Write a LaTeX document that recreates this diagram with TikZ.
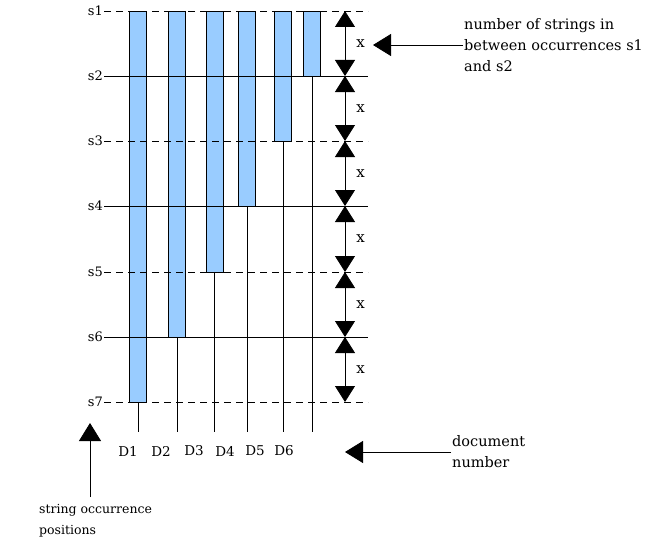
\documentclass[tikz,border=0pt]{standalone}
\usepackage{fontspec}
\setmainfont{DejaVu Serif}
\usetikzlibrary{arrows.meta}
\definecolor{barblue}{RGB}{153,204,255}

\begin{document}
\begin{tikzpicture}[x=1pt,y=-1pt]
        \useasboundingbox (0,0) rectangle (664,543);

        % document bars
        \begin{scope}[every node/.style={draw, thick, fill=barblue, rectangle, minimum width=17pt, inner sep=0, anchor=north}]
                \node [minimum height=391pt] (b1) at (138,11) {};
                \node [minimum height=326pt] (b2) at (177,11) {};
                \node [minimum height=261pt] (b3) at (214.5,11) {};
                \node [minimum height=195pt] (b4) at (247,11) {};
                \node [minimum height=130pt] (b5) at (283,11) {};
                \node [minimum height=65pt] (b6) at (312,11) {};
        \end{scope}

        % position labels and lines
        \begin{scope}[every node/.style={font=\fontsize{13}{15}\selectfont, inner sep=1, anchor=east}]
                \node (s1) at (104,11) {s1};
                \node (s2) at (104,76) {s2};
                \node (s3) at (104,141) {s3};
                \node (s4) at (104,206) {s4};
                \node (s5) at (104,272) {s5};
                \node (s6) at (104,337) {s6};
                \node (s7) at (104,402) {s7};
        \end{scope}
        \coordinate (e1) at (368,11);
        \coordinate (e2) at (368,76);
        \coordinate (e3) at (368,141);
        \coordinate (e4) at (368,206);
        \coordinate (e5) at (368,272);
        \coordinate (e6) at (368,337);
        \coordinate (e7) at (368,402);
        \begin{scope}[every path/.style={thick}]
                \draw [dash pattern=on 7pt off 5pt] (s1.east) -- (e1);
                \draw (s2.east) -- (e2);
                \draw [dash pattern=on 7pt off 5pt] (s3.east) -- (e3);
                \draw (s4.east) -- (e4);
                \draw [dash pattern=on 7pt off 5pt] (s5.east) -- (e5);
                \draw (s6.east) -- (e6);
                \draw [dash pattern=on 7pt off 5pt] (s7.east) -- (e7);
        \end{scope}

        % document stems and numbers
        \coordinate (t1) at (138,432);
        \coordinate (t2) at (177,432);
        \coordinate (t3) at (214.5,432);
        \coordinate (t4) at (247,432);
        \coordinate (t5) at (283,432);
        \coordinate (t6) at (312,432);
        \begin{scope}[every path/.style={thick}]
                \draw (b1.south) -- (t1);
                \draw (b2.south) -- (t2);
                \draw (b3.south) -- (t3);
                \draw (b4.south) -- (t4);
                \draw (b5.south) -- (t5);
                \draw (b6.south) -- (t6);
        \end{scope}
        \begin{scope}[every node/.style={font=\fontsize{13.5}{15}\selectfont, inner sep=1}]
                \node (D1) at (128,451) {D1};
                \node (D2) at (161,451) {D2};
                \node (D3) at (194,451) {D3};
                \node (D4) at (225,451) {D4};
                \node (D5) at (255,451) {D5};
                \node (D6) at (284,451) {D6};
        \end{scope}

        % gaps between occurrences
        \coordinate (a1) at (345,11);
        \coordinate (a2) at (345,76);
        \coordinate (a3) at (345,141);
        \coordinate (a4) at (345,206);
        \coordinate (a5) at (345,272);
        \coordinate (a6) at (345,337);
        \coordinate (a7) at (345,402);
        \begin{scope}[every node/.style={font=\fontsize{15}{16}\selectfont, inner sep=1, right=10pt},
                      every path/.style={thick, {Triangle[length=16pt,width=20pt]}-{Triangle[length=16pt,width=20pt]}}]
                \draw (a1) -- node {x} (a2);
                \draw (a2) -- node {x} (a3);
                \draw (a3) -- node {x} (a4);
                \draw (a4) -- node {x} (a5);
                \draw (a5) -- node {x} (a6);
                \draw (a6) -- node {x} (a7);
        \end{scope}

        % annotations
        \begin{scope}[every node/.style={font=\fontsize{14.5}{21}\selectfont, inner sep=1, align=left}]
                \node [anchor=west] (gap) at (463,45) {number of strings in\\between occurrences s1\\and s2};
                \node [anchor=west] (doc) at (451,452) {document\\number};
                \node [anchor=west, font=\fontsize{12.5}{21}\selectfont] (pos) at (38,521) {string occurrence\\positions};
        \end{scope}
        \coordinate (gt) at (373,45);
        \coordinate (dt) at (345,452);
        \coordinate (pf) at (90,497);
        \coordinate (pt) at (90,423);
        \begin{scope}[every path/.style={thick, -{Triangle[length=18pt,width=22pt]}}]
                \draw (gap.west) -- (gt);
                \draw (doc.west) -- (dt);
                \draw (pf) -- (pt);
        \end{scope}
\end{tikzpicture}
\end{document}
